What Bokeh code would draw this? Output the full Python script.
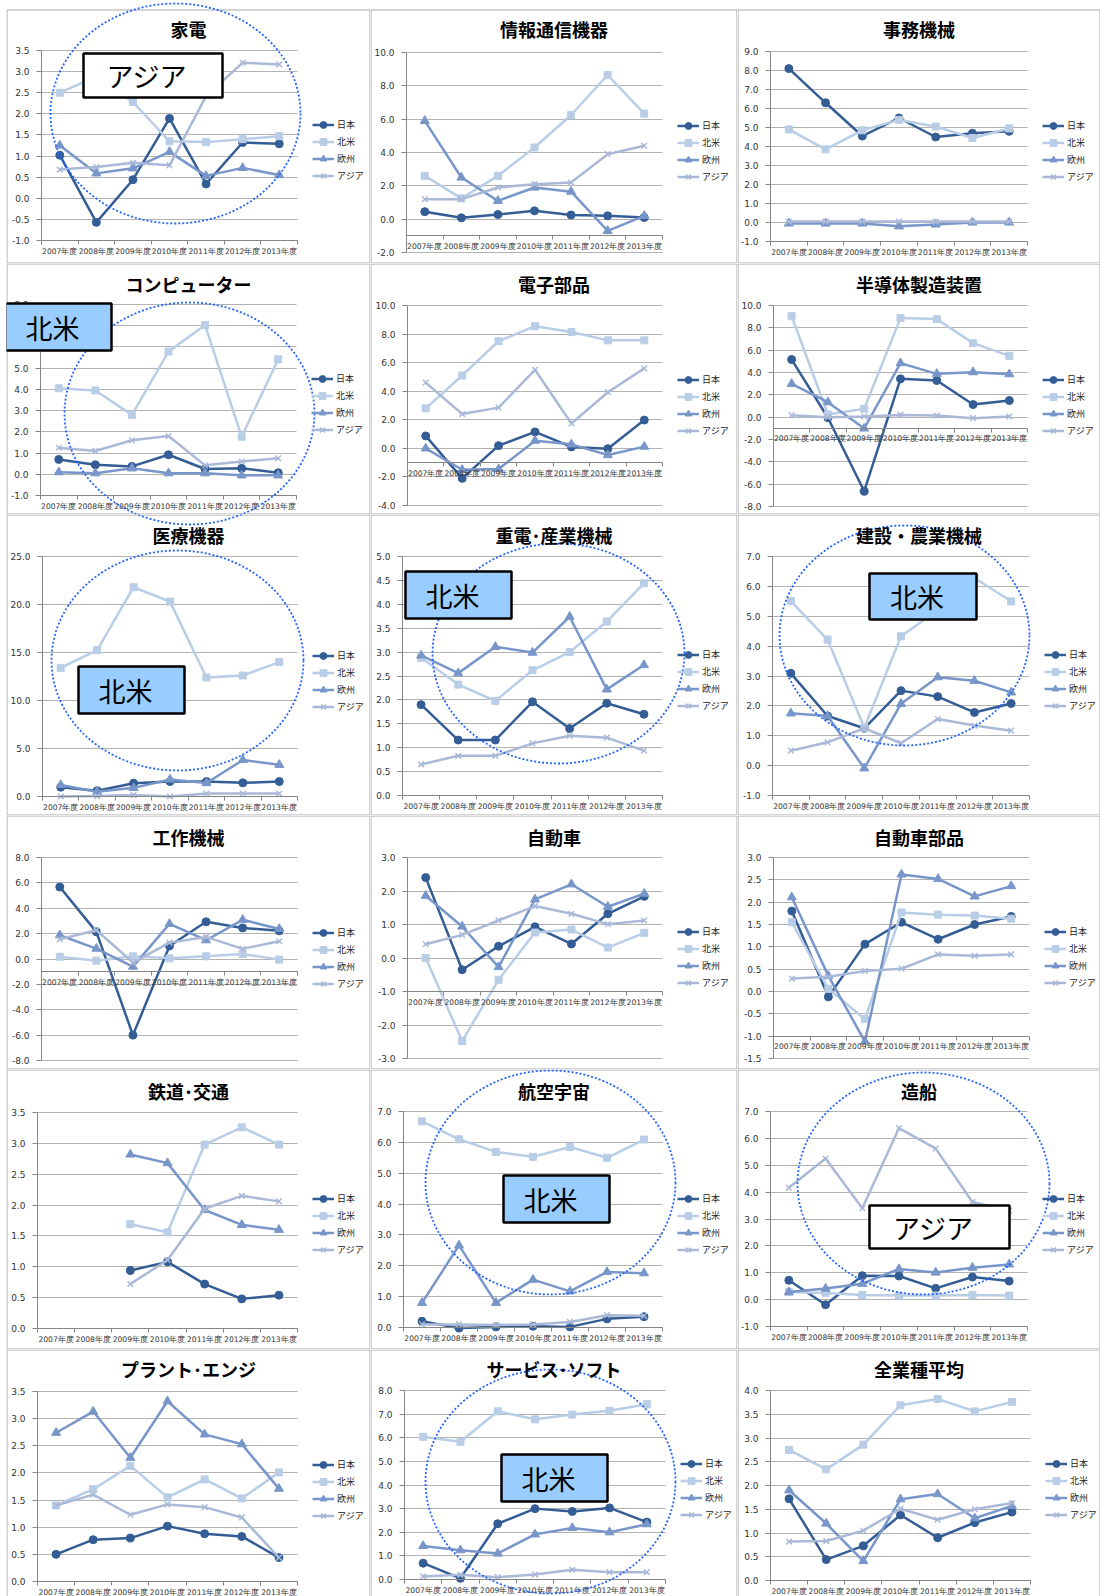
import numpy as np
from bokeh.plotting import figure
from bokeh.models import (Range1d, FixedTicker, NumeralTickFormatter, Legend, LegendItem,
                          Label, PolyAnnotation, BoxAnnotation, Spacer, ColumnDataSource)
from bokeh.layouts import row, column
from bokeh.embed import file_html
from bokeh.resources import INLINE

YEARS = ["2007年度", "2008年度", "2009年度", "2010年度", "2011年度", "2012年度", "2013年度"]
REGIONS = ["日本", "北米", "欧州", "アジア"]
NA = float("nan")

kaden = {"日本": [1.02, -0.57, 0.44, 1.89, 0.34, 1.32, 1.29],
         "北米": [2.50, 2.88, 2.28, 1.35, 1.33, 1.40, 1.47],
         "欧州": [1.25, 0.59, 0.71, 1.10, 0.53, 0.72, 0.55],
         "アジア": [0.68, 0.74, 0.84, 0.78, 2.42, 3.21, 3.17]}
joho = {"日本": [0.45, 0.08, 0.28, 0.50, 0.25, 0.20, 0.10],
        "北米": [2.60, 1.25, 2.60, 4.30, 6.25, 8.65, 6.33],
        "欧州": [5.90, 2.50, 1.10, 1.90, 1.65, -0.70, 0.20],
        "アジア": [1.20, 1.20, 1.90, 2.10, 2.20, 3.90, 4.40]}
jimu = {"日本": [8.10, 6.30, 4.55, 5.50, 4.50, 4.70, 4.80],
        "北米": [4.90, 3.85, 4.85, 5.40, 5.05, 4.45, 4.95],
        "欧州": [-0.05, -0.05, -0.05, -0.20, -0.10, 0.00, 0.00],
        "アジア": [0.05, 0.05, 0.05, 0.05, 0.05, 0.05, 0.05]}
computer = {"日本": [0.70, 0.45, 0.37, 0.92, 0.25, 0.28, 0.07],
            "北米": [4.05, 3.95, 2.80, 5.78, 7.03, 1.77, 5.42],
            "欧州": [0.10, 0.05, 0.28, 0.05, 0.05, -0.05, -0.05],
            "アジア": [1.25, 1.10, 1.60, 1.80, 0.42, 0.60, 0.75]}
denshi = {"日本": [0.87, -2.10, 0.19, 1.15, 0.10, -0.02, 1.98],
          "北米": [2.80, 5.10, 7.50, 8.55, 8.14, 7.56, 7.56],
          "欧州": [0.00, -1.50, -1.45, 0.54, 0.28, -0.47, 0.12],
          "アジア": [4.60, 2.40, 2.85, 5.50, 1.74, 3.93, 5.60]}
handotai = {"日本": [5.16, -0.05, -6.63, 3.43, 3.28, 1.13, 1.49],
            "北米": [9.04, 0.24, 0.75, 8.87, 8.78, 6.63, 5.49],
            "欧州": [2.99, 1.34, -1.01, 4.84, 3.88, 4.03, 3.85],
            "アジア": [0.18, 0.00, 0.06, 0.20, 0.15, -0.09, 0.06]}
iryo = {"日本": [0.97, 0.60, 1.39, 1.56, 1.56, 1.42, 1.56],
        "北米": [13.40, 15.25, 21.80, 20.30, 12.40, 12.60, 14.00],
        "欧州": [1.20, 0.50, 0.90, 1.77, 1.40, 3.80, 3.30],
        "アジア": [0.00, 0.05, 0.15, 0.00, 0.30, 0.30, 0.30]}
juden = {"日本": [1.90, 1.16, 1.16, 1.96, 1.40, 1.93, 1.70],
         "北米": [2.88, 2.32, 1.98, 2.62, 3.00, 3.64, 4.44],
         "欧州": [2.93, 2.56, 3.11, 2.99, 3.74, 2.22, 2.73],
         "アジア": [0.65, 0.83, 0.83, 1.09, 1.25, 1.21, 0.94]}
kensetsu = {"日本": [3.09, 1.66, 1.25, 2.51, 2.31, 1.78, 2.08],
            "北米": [5.51, 4.22, 1.27, 4.33, 5.20, 6.28, 5.50],
            "欧州": [1.75, 1.66, -0.09, 2.07, 2.96, 2.84, 2.45],
            "アジア": [0.50, 0.78, 1.25, 0.75, 1.56, 1.34, 1.17]}
kosaku = {"日本": [5.67, 2.14, -6.00, 1.03, 2.93, 2.45, 2.22],
          "北米": [0.18, -0.13, 0.21, 0.05, 0.21, 0.40, -0.05],
          "欧州": [1.87, 0.82, -0.60, 2.77, 1.48, 3.09, 2.37],
          "アジア": [1.56, 2.27, -0.28, 1.29, 1.74, 0.80, 1.40]}
jidosha = {"日本": [2.40, -0.35, 0.35, 0.93, 0.42, 1.32, 1.84],
           "北米": [0.00, -2.48, -0.65, 0.76, 0.85, 0.31, 0.75],
           "欧州": [1.86, 0.94, -0.27, 1.75, 2.20, 1.53, 1.92],
           "アジア": [0.41, 0.69, 1.12, 1.55, 1.32, 1.01, 1.12]}
buhin = {"日本": [1.80, -0.12, 1.06, 1.55, 1.17, 1.50, 1.68],
         "北米": [1.55, 0.06, -0.62, 1.77, 1.72, 1.70, 1.63],
         "欧州": [2.11, 0.35, -1.12, 2.62, 2.52, 2.13, 2.36],
         "アジア": [0.29, 0.33, 0.46, 0.51, 0.83, 0.80, 0.83]}
tetsudo = {"日本": [NA, NA, 0.94, 1.08, 0.72, 0.48, 0.54],
           "北米": [NA, NA, 1.69, 1.56, 2.98, 3.26, 2.98],
           "欧州": [NA, NA, 2.82, 2.68, 1.92, 1.68, 1.60],
           "アジア": [NA, NA, 0.72, 1.11, 1.94, 2.15, 2.06]}
koku = {"日本": [0.20, -0.02, 0.02, 0.04, 0.02, 0.28, 0.35],
        "北米": [6.68, 6.10, 5.69, 5.53, 5.85, 5.50, 6.09],
        "欧州": [0.80, 2.66, 0.80, 1.55, 1.17, 1.80, 1.76],
        "アジア": [0.10, 0.10, 0.08, 0.10, 0.18, 0.40, 0.38]}
zosen = {"日本": [0.72, -0.19, 0.89, 0.88, 0.42, 0.84, 0.69],
         "北米": [0.28, 0.25, 0.17, 0.15, 0.15, 0.17, 0.15],
         "欧州": [0.28, 0.41, 0.59, 1.14, 1.01, 1.19, 1.31],
         "アジア": [4.16, 5.25, 3.40, 6.38, 5.62, 3.63, 3.31]}
plant = {"日本": [0.50, 0.77, 0.80, 1.02, 0.88, 0.83, 0.44],
         "北米": [1.40, 1.70, 2.13, 1.55, 1.88, 1.53, 2.01],
         "欧州": [2.74, 3.13, 2.28, 3.32, 2.71, 2.53, 1.71],
         "アジア": [1.40, 1.60, 1.23, 1.42, 1.37, 1.18, 0.44]}
service = {"日本": [0.69, 0.05, 2.36, 3.00, 2.88, 3.03, 2.43],
           "北米": [6.04, 5.83, 7.12, 6.78, 6.98, 7.14, 7.42],
           "欧州": [1.42, 1.24, 1.10, 1.91, 2.18, 2.00, 2.34],
           "アジア": [0.13, 0.20, 0.10, 0.21, 0.41, 0.31, 0.31]}
zengyoshu = {"日本": [1.72, 0.44, 0.73, 1.38, 0.90, 1.22, 1.44],
             "北米": [2.75, 2.34, 2.86, 3.69, 3.82, 3.56, 3.76],
             "欧州": [1.90, 1.20, 0.41, 1.71, 1.82, 1.31, 1.57],
             "アジア": [0.82, 0.83, 1.05, 1.51, 1.28, 1.50, 1.63]}

TITLES = ["家電", "情報通信機器", "事務機械", "コンピューター", "電子部品", "半導体製造装置",
          "医療機器", "重電･産業機械", "建設・農業機械", "工作機械", "自動車", "自動車部品",
          "鉄道･交通", "航空宇宙", "造船", "プラント･エンジ", "サービス･ソフト", "全業種平均"]
DATA = [kaden, joho, jimu, computer, denshi, handotai, iryo, juden, kensetsu,
        kosaku, jidosha, buhin, tetsudo, koku, zosen, plant, service, zengyoshu]
# y-axis (min, max, step)
YAXES = [(-1, 3.5, 0.5), (-2, 10, 2), (-1, 9, 1), (-1, 8, 1), (-4, 10, 2), (-8, 10, 2),
         (0, 25, 5), (0, 5, 0.5), (-1, 7, 1), (-8, 8, 2), (-3, 3, 1), (-1.5, 3, 0.5),
         (0, 3.5, 0.5), (0, 7, 1), (-1, 7, 1), (0, 3.5, 0.5), (0, 8, 1), (0, 4, 0.5)]

# ---------------- layout / style (page pixels) ----------------
COL_L = [6, 370, 737]
COL_W = [364, 367, 363]
ROW_T = [9, 263, 514, 815, 1069, 1349]     # panel border tops
ROW_B = [263, 514, 815, 1069, 1349, 1596]
TITLE_Y = [28, 283, 534, 836, 1090, 1368]
FRAMES = [(41, 297, 50, 240), (406, 662, 52, 252), (770, 1027, 51, 241),
          (40, 296, 304, 495), (407, 662, 305, 505), (773, 1027, 305, 506),
          (42, 297, 556, 796), (402, 662, 556, 795), (772, 1029, 556, 795),
          (41, 297, 857, 1060), (407, 662, 857, 1058), (773, 1029, 857, 1058),
          (37, 297, 1112, 1328), (403, 662, 1111, 1327), (770, 1027, 1111, 1326),
          (37, 297, 1391, 1581), (404, 665, 1390, 1579), (770, 1030, 1390, 1580)]
LEG_CY = [150, 151, 151, 404, 405, 405, 681, 680, 680, 958, 957, 957,
          1224, 1224, 1224, 1490, 1489, 1489]
# dotted circles on the page: (cx, cy, rx, ry)
CIRCLES = [(175, 113, 125, 110), (189, 413, 125, 111), (177, 660, 126, 110),
           (558, 653, 126, 110), (904, 635, 125, 110), (550, 1182, 125, 112),
           (923, 1183, 126, 111), (550, 1481, 125, 112)]
# boxes: panel -> (left, right, top, bottom, fill, text)
BOXES = {0: (83, 222, 53, 97, "#ffffff", "アジア"), 3: (5, 111, 303, 350, "#99ccff", "北米"),
         6: (78, 184, 666, 713, "#99ccff", "北米"), 7: (405, 511, 571, 618, "#99ccff", "北米"),
         8: (869, 976, 573, 619, "#99ccff", "北米"), 13: (503, 609, 1175, 1222, "#99ccff", "北米"),
         14: (869, 1009, 1205, 1248, "#ffffff", "アジア"), 16: (501, 607, 1454, 1501, "#99ccff", "北米")}

COLORS = {"日本": "#335d94", "北米": "#b9cde6", "欧州": "#7896c9", "アジア": "#aab9d8"}
MARKERS = {"日本": "circle", "北米": "square", "欧州": "triangle", "アジア": "x"}
MSIZE = {"日本": 8, "北米": 7, "欧州": 9, "アジア": 8}
JP = "Noto Sans CJK JP"
NUMF = "DejaVu Sans"
AXC = "#868686"
GRIDC = "#b3b3b3"
BORDER = "#a8a8a8"


def make_panel(i):
    r, c = divmod(i, 3)
    ox, w = COL_L[c], COL_W[c]
    oy = 0 if r == 0 else ROW_T[r]
    h = ROW_B[r] - oy
    fl, fr, ft, fb = FRAMES[i]
    ymin, ymax, step = YAXES[i]

    def dx(X):
        return (X - fl) / (fr - fl) * 7.0

    def dy(Y):
        return ymax - (Y - ft) / (fb - ft) * (ymax - ymin)

    # the frame covers the whole canvas; the plot area [0,7]x[ymin,ymax] sits inside it
    p = figure(width=w, height=h, x_range=Range1d(dx(ox), dx(ox + w)),
               y_range=Range1d(dy(oy + h), dy(oy)),
               output_backend="svg", toolbar_location=None, tools="", min_border=0)
    p.outline_line_color = None
    p.background_fill_color = "white"
    p.border_fill_color = "white"

    xa = p.xaxis[0]
    ya = p.yaxis[0]
    xa.ticker = FixedTicker(ticks=[k + 0.5 for k in range(7)], minor_ticks=list(range(8)))
    xa.major_label_overrides = {k + 0.5: YEARS[k] for k in range(7)}
    xa.fixed_location = max(ymin, -1.0)
    xa.bounds = (0, 7)
    xa.major_tick_out = 0
    xa.major_tick_in = 0
    xa.minor_tick_out = 4
    xa.minor_tick_in = 0
    xa.minor_tick_line_color = AXC
    xa.major_label_standoff = 2
    xa.major_label_text_font_size = "7.6px"

    n = int(round((ymax - ymin) / step))
    yt = [round(ymin + k * step, 6) for k in range(n + 1)]
    ya.ticker = FixedTicker(ticks=yt, minor_ticks=[])
    ya.formatter = NumeralTickFormatter(format="0.0")
    ya.fixed_location = 0
    ya.bounds = (ymin, ymax)
    ya.major_tick_out = 5
    ya.major_tick_in = 0
    ya.minor_tick_line_color = None
    ya.major_label_standoff = 7
    ya.major_label_text_font_size = "9px"
    for ax in (xa, ya):
        ax.axis_line_color = AXC
        ax.major_tick_line_color = AXC
        ax.major_label_text_color = "#333333"
        ax.major_label_text_font = NUMF
    p.xgrid.visible = False
    g = p.ygrid[0]
    g.ticker = FixedTicker(ticks=yt, minor_ticks=[])
    g.grid_line_color = GRIDC
    g.grid_line_width = 1
    try:
        g.cross_bounds = (0, 7)
        g.bounds = (ymin, ymax)
    except Exception:
        g.visible = False
        p.segment(x0=[0] * len(yt), x1=[7] * len(yt), y0=yt, y1=yt,
                  line_color=GRIDC, line_width=1)

    data = DATA[i]
    items = []
    xs = np.arange(7) + 0.5
    for reg in REGIONS:
        src = ColumnDataSource(dict(x=xs, y=np.array(data[reg], dtype=float)))
        lr = p.line("x", "y", source=src, line_color=COLORS[reg], line_width=2.5)
        if MARKERS[reg] == "x":
            sr = p.scatter("x", "y", source=src, marker="x", size=MSIZE[reg],
                           line_color=COLORS[reg], line_width=1.5)
        else:
            sr = p.scatter("x", "y", source=src, marker=MARKERS[reg], size=MSIZE[reg],
                           fill_color=COLORS[reg], line_color=COLORS[reg])
        items.append(LegendItem(label=reg, renderers=[lr, sr]))

    # panel border (inside the canvas)
    bb = dy(ROW_B[r] - 0.5) if r < 5 else dy(ROW_B[r] + 5)
    p.add_layout(BoxAnnotation(left=dx(ox + 0.5), right=dx(ox + w - 0.5),
                               top=dy(ROW_T[r] + 0.5), bottom=bb, fill_alpha=0,
                               line_color=BORDER, line_alpha=1.0, line_width=1))

    # dotted circles (any part falling in this canvas)
    for (cx, cy, rx, ry) in CIRCLES:
        if cx + rx < ox or cx - rx > ox + w or cy + ry < oy or cy - ry > oy + h:
            continue
        t = np.linspace(0, 2 * np.pi, 181)
        ex = [dx(cx + rx * np.cos(a)) for a in t]
        ey = [dy(cy + ry * np.sin(a)) for a in t]
        p.add_layout(PolyAnnotation(xs=ex, ys=ey, xs_units="data", ys_units="data",
                                    line_color="#2563ff", line_alpha=1.0, line_width=1.8,
                                    line_dash="2 2", fill_alpha=0))
    if i in BOXES:
        bl, br, bt, bbx, fill, txt = BOXES[i]
        p.add_layout(BoxAnnotation(left=dx(bl), right=dx(br), top=dy(bt), bottom=dy(bbx),
                                   fill_color=fill, fill_alpha=1.0, line_color="#000000",
                                   line_alpha=1.0, line_width=2.5))
        p.add_layout(Label(x=dx((bl + br) / 2 - 6), y=dy((bt + bbx) / 2), text=txt,
                           text_align="center", text_baseline="middle", text_font=JP,
                           text_font_size="27px", text_color="#000000"))

    leg_h = 68
    legend = Legend(items=items,
                    location=(fr + 15 - ox, (oy + h) - (LEG_CY[i] + leg_h / 2)),
                    orientation="vertical", padding=0, margin=0, spacing=0,
                    glyph_width=22, glyph_height=17, label_height=17, label_standoff=3,
                    label_text_font=JP, label_text_font_size="9px", label_text_color="#222222",
                    border_line_color=None, background_fill_alpha=0)
    p.add_layout(legend, "center")

    # title, centred on the panel
    p.add_layout(Label(x=dx(COL_L[c] + COL_W[c] / 2), y=dy(TITLE_Y[r]), text=TITLES[i],
                       text_align="center", text_baseline="middle", text_font=JP,
                       text_font_size="18px", text_font_style="bold", text_color="#000000"))
    return p


panels = [make_panel(i) for i in range(18)]
rows = []
for r in range(6):
    rows.append(row(Spacer(width=COL_L[0], height=10), *panels[3 * r:3 * r + 3]))
layout = column(*rows)

open("out.html", "w").write(file_html(layout, INLINE))
